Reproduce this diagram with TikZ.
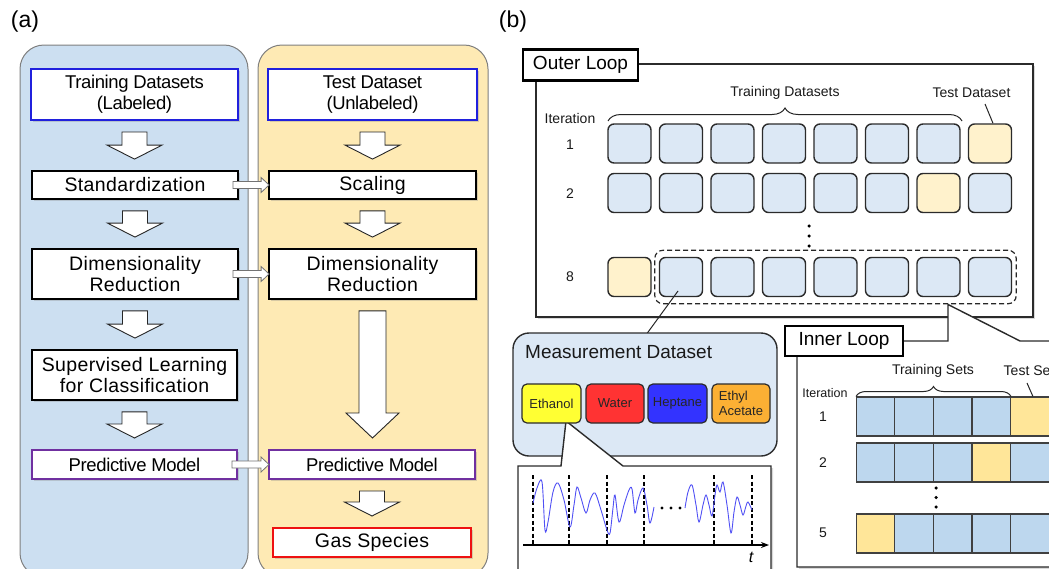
\documentclass[tikz,border=0pt]{standalone}
\usepackage{fontspec}
\setmainfont{Liberation Sans}
\usetikzlibrary{shadows,decorations.pathreplacing,calc,fit,arrows.meta}

\definecolor{pblue}{HTML}{CCDFF1}
\definecolor{pyellow}{HTML}{FEEAB4}
\definecolor{pborder}{HTML}{7F7F7F}
\definecolor{dsblue}{HTML}{2020DD}
\definecolor{pmpurple}{HTML}{7030A0}
\definecolor{gsred}{HTML}{EE1111}
\definecolor{oblue}{HTML}{DCE8F5}
\definecolor{oyellow}{HTML}{FFF2CC}
\definecolor{iblue}{HTML}{BDD7EE}
\definecolor{iyellow}{HTML}{FFE699}
\definecolor{cline}{HTML}{2B2B2B}
\definecolor{gyellow}{HTML}{FFFF33}
\definecolor{gred}{HTML}{FF3333}
\definecolor{gblue}{HTML}{3333FF}
\definecolor{gorange}{HTML}{FBB034}
\definecolor{wave}{HTML}{5050F5}

\newcommand\fpanel{\fontsize{23}{26}\selectfont}
\newcommand\ftight{\fontsize{18.5}{21}\selectfont\addfontfeature{LetterSpace=-2}}
\newcommand\fwide{\fontsize{19.5}{21}\selectfont\addfontfeature{LetterSpace=2}}
\newcommand\floop{\fontsize{19}{22}\selectfont}
\newcommand\fsmall{\fontsize{14}{16}\selectfont}
\newcommand\fismall{\fontsize{12.5}{15}\selectfont}
\newcommand\fgas{\fontsize{13}{15}\selectfont}

% block arrow pointing down between two named nodes
\newcommand\blockdown[5]{%
  \draw[blockarrow] let \p1=(#1.south), \p2=(#2.north) in
    (\x1-#3pt,\y1-11pt) -- (\x1+#3pt,\y1-11pt) -- (\x1+#3pt,\y2+11pt+#5pt) --
    (\x1+#4pt,\y2+11pt+#5pt) -- (\x1,\y2+11pt) -- (\x1-#4pt,\y2+11pt+#5pt) --
    (\x1-#3pt,\y2+11pt+#5pt) -- cycle;}
% small block arrow pointing right between two named nodes
\newcommand\blockright[2]{%
  \draw[harrow] let \p1=(#1.east), \p2=(#2.west) in
    (\x1-6pt,\y1+3.5pt) -- (\x2-7pt,\y1+3.5pt) -- (\x2-7pt,\y1+7.5pt) --
    (\x2+1pt,\y1) -- (\x2-7pt,\y1-7.5pt) -- (\x2-7pt,\y1-3.5pt) --
    (\x1-6pt,\y1-3.5pt) -- cycle;}

\begin{document}
\begin{tikzpicture}[x=1pt,y=-1pt,
  panel/.style={draw=pborder, line width=1pt, rounded corners=24pt},
  abox/.style={draw=black, line width=1.8pt, fill=white, inner sep=0pt, align=center,
     drop shadow={shadow xshift=1.5pt, shadow yshift=-1.5pt, opacity=0.3}},
  blockarrow/.style={draw=black!85, line width=0.9pt, fill=white},
  harrow/.style={draw=black!55, line width=0.8pt, fill=white},
  frame/.style={draw=cline, line width=1.4pt, fill=white,
     drop shadow={shadow xshift=2pt, shadow yshift=-2pt, opacity=0.3}},
  looplbl/.style={draw=black, line width=2.2pt, fill=white, inner sep=0pt, font=\floop, minimum height=31pt},
  ocell/.style={draw=cline, line width=1.4pt, rounded corners=6pt, minimum width=43pt, minimum height=39pt, inner sep=0pt},
  icell/.style={draw=black!75, line width=1.2pt, minimum width=38.6pt, minimum height=39pt, inner sep=0pt},
  lbl/.style={inner sep=0pt, font=\fsmall, text=black!90},
  gasbox/.style={draw=cline, line width=1.2pt, rounded corners=5pt, minimum width=58pt, minimum height=39pt, inner sep=0pt, font=\fgas, text=black!85},
  mybrace/.style={decorate, decoration={brace, amplitude=#1, aspect=0.5}, line width=1pt, draw=black!85},
  dotmark/.style={fill=black, inner sep=0pt, minimum size=3.5pt, circle}
]
\useasboundingbox (0,0) rectangle (1049,568);
\clip (0,0) rectangle (1049,568);

% ================= (a) =================
\node[font=\fpanel, inner sep=0pt] (la) at (25,22) {(a)};
\node[font=\fpanel, inner sep=0pt] (lb) at (513,22) {(b)};

\draw[panel, fill=pblue] (20,45) rectangle (248,577);
\draw[panel, fill=pyellow] (258,45) rectangle (488,577);

\node[abox, draw=dsblue, line width=2pt, minimum width=207pt, minimum height=51pt, font=\ftight] (trn) at (134.5,94.5) {Training Datasets\\(Labeled)};
\node[abox, draw=dsblue, line width=2pt, minimum width=209pt, minimum height=51pt, font=\ftight] (tst) at (372.5,94.5) {Test Dataset\\(Unlabeled)};

\node[abox, minimum width=206pt, minimum height=28pt, font=\fwide] (std) at (135,185) {Standardization};
\node[abox, minimum width=207pt, minimum height=28pt, font=\fwide] (scl) at (372.5,185) {Scaling};

\node[abox, minimum width=206pt, minimum height=50pt, font=\fwide] (drl) at (135,274) {Dimensionality\\Reduction};
\node[abox, minimum width=207pt, minimum height=50pt, font=\fwide] (drr) at (372.5,274) {Dimensionality\\Reduction};

\node[abox, minimum width=205pt, minimum height=50pt, font=\fwide] (sup) at (134.5,375) {Supervised Learning\\for Classification};

\node[abox, draw=pmpurple, line width=2pt, minimum width=205pt, minimum height=29pt, font=\ftight] (pml) at (134.5,464.5) {Predictive Model};
\node[abox, draw=pmpurple, line width=2pt, minimum width=206pt, minimum height=29pt, font=\ftight] (pmr) at (372,464.5) {Predictive Model};

\node[abox, draw=gsred, line width=2pt, minimum width=198pt, minimum height=29pt, font=\fwide] (gas) at (372,542.5) {Gas Species};

\blockdown{trn}{std}{12.5}{27.5}{14}
\blockdown{std}{drl}{12.5}{27.5}{14}
\blockdown{drl}{sup}{12.5}{27.5}{14}
\blockdown{sup}{pml}{12.5}{27.5}{14}
\blockdown{tst}{scl}{12.5}{27.5}{14}
\blockdown{scl}{drr}{12.5}{27.5}{14}
\blockdown{drr}{pmr}{13.5}{26.5}{25}
\blockdown{pmr}{gas}{12.5}{27.5}{14}

\blockright{std}{scl}
\blockright{drl}{drr}
\blockright{pml}{pmr}

% ================= (b) outer loop =================
\node[frame, minimum width=497pt, minimum height=253pt, inner sep=0pt] (outer) at (784.5,190.5) {};
\node[looplbl, minimum width=115pt] (outerlbl) at (580.5,65) {Outer Loop};

\node[lbl] (oit) at (570,118) {Iteration};
\node[lbl] (or1) at (570,145) {1};
\node[lbl] (or2) at (570,194) {2};
\node[lbl] (or8) at (570,277) {8};

\foreach \r/\y/\t in {1/143.5/8, 2/193/7, 8/277/1} {
  \foreach \c in {1,...,8} {
    \ifnum\c=\t
      \node[ocell, fill=oyellow] (o\r-\c) at ({629.5+(\c-1)*51.5},\y) {};
    \else
      \node[ocell, fill=oblue] (o\r-\c) at ({629.5+(\c-1)*51.5},\y) {};
    \fi
  }
}

\node[lbl] (otrn) at (785,93) {Training Datasets};
\node[lbl] (otst) at (971.5,93) {Test Dataset};
\draw[mybrace=13pt] (608,121) -- (962,121);
\coordinate (otp) at (985,104);
\draw[line width=1pt, black!85] (otp) -- ($(o1-8.north)+(3,0)$);

\node[dotmark] (od1) at (809,226) {};
\node[dotmark] (od2) at (809,236) {};
\node[dotmark] (od3) at (809,246) {};

\node[draw=black!85, dashed, dash pattern=on 5pt off 3pt, line width=1.2pt, rounded corners=8pt,
      fit=(o8-2)(o8-8), inner xsep=4pt, inner ysep=6.5pt] (dsel) {};

% ================= measurement dataset =================
\coordinate (mptr) at (678,291);
\coordinate (mtop) at (647,333.5);
\draw[line width=1pt, black!85] (mptr) -- (mtop);

\node[draw=cline, line width=1.4pt, fill=oblue, rounded corners=16pt, minimum width=264pt, minimum height=123pt, inner sep=0pt] (meas) at (645,394.5) {};
\node[inner sep=0pt, font=\floop, anchor=west, text=black!90] (mtitle) at (525,352) {Measurement Dataset};

% signal callout box
\coordinate (ctip) at (566,421);
\draw[frame] (561,466) -- (518,466) -- (518,580) -- (771,580) -- (771,466) -- (623,466) -- (ctip) -- cycle;

\node[gasbox, fill=gyellow, minimum width=59pt] (eth) at (551.5,403.5) {Ethanol};
\node[gasbox, fill=gred] (wat) at (615,403.5) {Water};
\node[gasbox, fill=gblue, minimum width=59pt] (hep) at (677.5,403.5) {Heptane};
\node[gasbox, fill=gorange, align=left] (eac) at (741,403.5) {Ethyl\\Acetate};

% signal plot
\foreach \x in {533,569,607,644,714,752}
  \draw[line width=1.2pt, dash pattern=on 4pt off 2.5pt] (\x,475) -- (\x,545);
\draw[wave, line width=0.9pt] plot[smooth, tension=0.55] coordinates {
  (533,503) (537,488) (542,482) (545,530) (548,522) (553,492) (558,483) (564,500) (570,527)
  (574,505) (577,487) (581,498) (586,513) (590,500) (595,493) (601,510) (607,530)
  (610,533) (613,508) (615,495) (619,522) (624,505) (629,490) (632,489) (635,513)
  (638,500) (643,488) (647,505) (650,523) (654,507)};
\draw[wave, line width=0.9pt] plot[smooth, tension=0.55] coordinates {
  (685,508) (688,492) (692,485) (696,505) (699,522) (703,505) (706,495) (709,505) (712,516)
  (715,495) (717,485) (720,492) (723,482) (727,505) (731,533) (734,512) (737,497)
  (740,505) (743,515) (746,506) (748,502) (752,510)};
\node[dotmark, minimum size=3.2pt] (sd1) at (662,508) {};
\node[dotmark, minimum size=3.2pt] (sd2) at (671,508) {};
\node[dotmark, minimum size=3.2pt] (sd3) at (680,508) {};
\coordinate (axs) at (523,545);
\coordinate (axe) at (769,545);
\draw[line width=1.2pt, -{Stealth[length=8pt,width=6pt]}] (axs) -- (axe);
\node[inner sep=0pt, font=\fontsize{16}{18}\selectfont\itshape] (tlbl) at (751,557) {t};

% ================= inner loop =================
\coordinate (ptip) at (948,304.5);
\draw[frame] (797,341) -- (948,341) -- (ptip) -- (1020,341) -- (1070,341) -- (1070,567) -- (797,567) -- cycle;
\node[looplbl, minimum width=118pt, minimum height=30pt] (innerlbl) at (844,341) {Inner Loop};

\node[lbl, font=\fismall] (iit) at (825,393) {Iteration};
\node[lbl] (ir1) at (823,417) {1};
\node[lbl] (ir2) at (823,463) {2};
\node[lbl] (ir5) at (823,533) {5};

\foreach \r/\y/\t in {1/416.5/5, 2/462.5/4, 5/533.5/1} {
  \foreach \c in {1,...,5} {
    \ifnum\c=\t
      \node[icell, fill=iyellow] (i\r-\c) at ({875.5+(\c-1)*38.6},\y) {};
    \else
      \node[icell, fill=iblue] (i\r-\c) at ({875.5+(\c-1)*38.6},\y) {};
    \fi
  }
}
\node[lbl] (itrn) at (933,371) {Training Sets};
\node[lbl] (itst) at (1029,371) {Test Set};
\draw[mybrace=10pt] (856,396.5) -- (1011,396.5);
\coordinate (itp) at (1027,383);
\draw[line width=1pt, black!85] (itp) -- ($(i1-5.north)+(3,0)$);

\node[dotmark] (id1) at (936,488) {};
\node[dotmark] (id2) at (936,497.5) {};
\node[dotmark] (id3) at (936,507) {};
\end{tikzpicture}
\end{document}
